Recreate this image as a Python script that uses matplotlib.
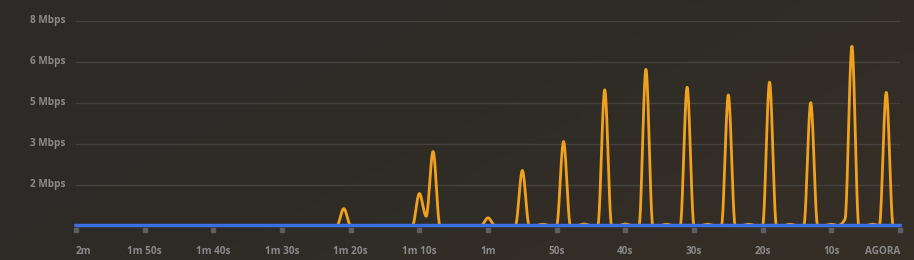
import numpy as np
import matplotlib
matplotlib.use("Agg")
import matplotlib.pyplot as plt
from matplotlib.colors import LinearSegmentedColormap
from matplotlib.transforms import ScaledTranslation

# ---- data ----
times = list(range(-120, 1))  # seconds relative to now, 1 s samples
orange_spike_times = [-81, -70, -69, -68, -60, -55, -52, -49, -46, -43, -40, -37, -34,
                      -31, -28, -25, -22, -19, -16, -13, -10, -8, -7, -4, -2]
orange_spike_values = [0.66, 1.25, 0.36, 2.89, 0.30, 2.15, 0.05, 3.28, 0.06, 5.30, 0.06, 6.10, 0.05,
                       5.40, 0.05, 5.10, 0.05, 5.60, 0.05, 4.80, 0.05, 0.25, 7.00, 0.05, 5.20]
blue_values = [0.0] * len(times)

ytick_vals = [1.6, 3.2, 4.8, 6.4, 8.0]
ytick_labels = ["2 Mbps", "3 Mbps", "5 Mbps", "6 Mbps", "8 Mbps"]
xtick_vals = [-120, -110, -100, -90, -80, -70, -60, -50, -40, -30, -20, -10, 0]
xtick_labels = ["2m", "1m 50s", "1m 40s", "1m 30s", "1m 20s", "1m 10s", "1m",
                "50s", "40s", "30s", "20s", "10s", "AGORA"]

orange_values = [0.0] * len(times)
for t, v in zip(orange_spike_times, orange_spike_values):
    orange_values[times.index(t)] = v


def monotone(x, y, n=20):
    x = np.asarray(x, float); y = np.asarray(y, float)
    h = np.diff(x); d = np.diff(y) / h
    m = np.zeros_like(y)
    for i in range(1, len(y) - 1):
        if d[i - 1] * d[i] > 0:
            w1 = 2 * h[i] + h[i - 1]; w2 = h[i] + 2 * h[i - 1]
            m[i] = (w1 + w2) / (w1 / d[i - 1] + w2 / d[i])
    m[0] = d[0]; m[-1] = d[-1]
    xs, ys = [], []
    for i in range(len(x) - 1):
        s = np.linspace(0, 1, n, endpoint=False)
        h00 = 2 * s**3 - 3 * s**2 + 1; h10 = s**3 - 2 * s**2 + s
        h01 = -2 * s**3 + 3 * s**2; h11 = s**3 - s**2
        xs.append(x[i] + s * h[i])
        ys.append(h00 * y[i] + h10 * h[i] * m[i] + h01 * y[i + 1] + h11 * h[i] * m[i + 1])
    xs.append([x[-1]]); ys.append([y[-1]])
    return np.concatenate(xs), np.concatenate(ys)


fig = plt.figure(figsize=(9.14, 2.6), dpi=100)

# background gradient
bg = fig.add_axes([0, 0, 1, 1], zorder=-10)
bg.axis("off")
cmap = LinearSegmentedColormap.from_list("bg", ["#2c2b29", "#2f2c27", "#362f26"])
yy, xx = np.mgrid[0:1:50j, 0:1:200j]
grad = (xx * 0.65 + yy * 0.35)
bg.imshow(grad, cmap=cmap, aspect="auto", extent=[0, 1, 0, 1], origin="upper")
bg.set_xlim(0, 1); bg.set_ylim(0, 1)

ax = fig.add_axes([76 / 914, 1 - 225.5 / 260, 824 / 914, (225.5 - 20.7) / 260])
ax.patch.set_alpha(0)
ax.set_xlim(-120, 0)
ax.set_ylim(0, 8.0)
for s in ax.spines.values():
    s.set_visible(False)
ax.set_xticks([]); ax.set_yticks([])

for yv, lab in zip(ytick_vals, ytick_labels):
    ax.axhline(yv, color="#45423d", lw=1.0, zorder=1)
    ax.annotate(lab, xy=(0, yv), xycoords=("axes fraction", "data"),
                xytext=(-11 * 0.72, 0), textcoords="offset points",
                ha="right", va="center", fontsize=7.2, color="#8a8a8a",
                family="Open Sans", fontweight="bold")

xo, yo = monotone(times, orange_values)
ax.plot(xo, yo, color="#f0a21e", lw=2.0, zorder=3, clip_on=False,
        solid_capstyle="round", snap=False)
ax.plot(times, blue_values, color="#3b6fe3", lw=2.5, zorder=4, clip_on=False, snap=False)

off = ax.transData + ScaledTranslation(0, -4 / 100, fig.dpi_scale_trans)
ax.plot(xtick_vals, [0] * len(xtick_vals), ls="none", marker="s", ms=3.5,
        color="#5f5f5f", transform=off, clip_on=False, zorder=2)

for i, (xv, lab) in enumerate(zip(xtick_vals, xtick_labels)):
    ha = "center"
    if i == 0:
        ha = "left"
    elif i == len(xtick_vals) - 1:
        ha = "right"
    ax.annotate(lab, xy=(xv, 0), xycoords=("data", "axes fraction"),
                xytext=(0, -25.5 * 0.72), textcoords="offset points",
                ha=ha, va="center", fontsize=7.2, color="#8a8a8a",
                family="Open Sans", fontweight="bold")

fig.savefig("out.png", dpi=100)
